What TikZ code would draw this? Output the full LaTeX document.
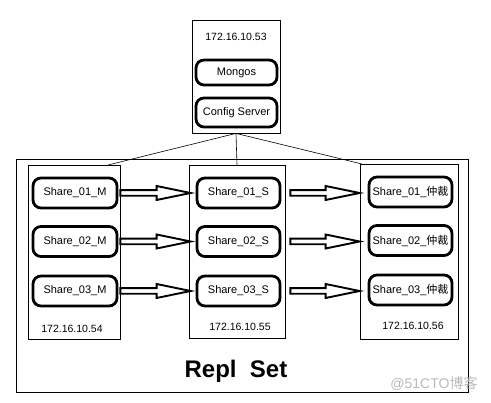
\documentclass[tikz,border=0pt]{standalone}
\usepackage{fontspec}
\setmainfont{Liberation Sans}
\newfontfamily\cjk{Noto Sans CJK SC}
\usetikzlibrary{calc}

\tikzset{
	hostbox/.style = {draw, line width = 0.8pt, inner sep = 0pt},
	rolebox/.style = {draw, line width = 2.8pt, rounded corners = 8pt, inner sep = 0pt,
		minimum width = 83pt, minimum height = 30pt, font = \fontsize{11}{13}\selectfont},
	iplabel/.style = {font = \fontsize{10.5}{12}\selectfont},
	fatarrow/.style = {draw, line width = 1.9pt, fill = white, line join = miter}
}

% Hollow arrow from #1 to #2 (tip at #2)
\newcommand{\pushto}[2]{%
	\draw [fatarrow] let \p1 = (#1), \p2 = (#2) in
		(\x1, \y1 + 2.8pt) -- (\x2 - 34pt, \y1 + 2.8pt) -- (\x2 - 34pt, \y1 + 7pt) -- (\x2, \y1)
		-- (\x2 - 34pt, \y1 - 7pt) -- (\x2 - 34pt, \y1 - 2.8pt) -- (\x1, \y1 - 2.8pt) -- cycle;
}

\begin{document}
\begin{tikzpicture}[x = 1pt, y = -1pt]

	\useasboundingbox (0, 0) rectangle (491, 403);

	% Router host

	\node [hostbox, minimum width = 88pt, minimum height = 113pt] (h53) at (236, 76.5) {};
	\node [iplabel] (ip53) at (236, 37) {172.16.10.53};
	\node [rolebox, minimum width = 81pt, minimum height = 25pt] (mongos) at (236.5, 72.5) {Mongos};
	\node [rolebox, minimum width = 81pt, minimum height = 29pt] (config) at (236.5, 112.5) {Config Server};

	% Replica set frame and shard hosts

	\node [hostbox, minimum width = 452pt, minimum height = 233pt] (repl) at (242, 275.5) {};

	\node [hostbox, minimum width = 92pt, minimum height = 174pt] (h54) at (74, 252) {};
	\node [hostbox, minimum width = 96pt, minimum height = 173pt] (h55) at (237, 251.5) {};
	\node [hostbox, minimum width = 98pt, minimum height = 175pt] (h56) at (409, 251.5) {};

	\node [iplabel] (ip54) at (72, 329) {172.16.10.54};
	\node [iplabel] (ip55) at (240, 327) {172.16.10.55};
	\node [iplabel] (ip56) at (413, 326) {172.16.10.56};

	% Shard members

	\foreach \k/\y in {1/193, 2/241.5, 3/291}
	{
		\node [rolebox, minimum width = 84pt] (m\k) at (75, \y) {Share\_0\k\_M};
		\node [rolebox] (s\k) at (238.5, \y) {Share\_0\k\_S};
		\node [rolebox] (a\k) at (410.5, \y - 1) {Share\_0\k\_{\cjk 仲裁}};

		\pushto{h54.east |- m\k}{$(s\k.west) + (-5, 0)$}
		\pushto{$(h55.east |- s\k) + (5, 0)$}{h56.west |- s\k}
	}

	% Links from router host

	\coordinate (t54) at (108, 165);
	\coordinate (t56) at (362, 164);

	\draw [line width = 0.6pt] (h53.south) -- (t54);
	\draw [line width = 0.6pt] (h53.south) -- (h55.north);
	\draw [line width = 0.6pt] (h53.south) -- (t56);

	% Labels

	\node [font = \fontsize{24}{28}\selectfont\bfseries] (title) at (236, 371) {Repl~~Set};
	\node [text = gray!55, font = \fontsize{14}{16}\selectfont] (mark) at (434, 384) {@51CTO{\cjk 博客}};

\end{tikzpicture}
\end{document}
